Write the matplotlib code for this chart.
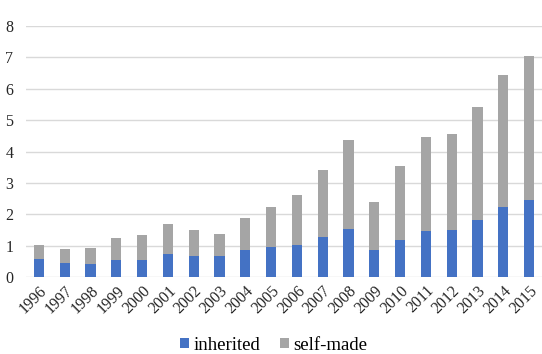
import matplotlib
matplotlib.use("Agg")
import matplotlib.pyplot as plt
import numpy as np

years = [str(y) for y in range(1996, 2016)]
inherited = [0.56, 0.44, 0.41, 0.53, 0.55, 0.74, 0.68, 0.66, 0.87, 0.95,
             1.02, 1.28, 1.54, 0.87, 1.19, 1.47, 1.51, 1.82, 2.22, 2.47]
total = [1.02, 0.88, 0.92, 1.25, 1.35, 1.70, 1.50, 1.37, 1.88, 2.22,
         2.62, 3.42, 4.37, 2.40, 3.55, 4.47, 4.55, 5.41, 6.43, 7.05]
self_made = [t - i for t, i in zip(total, inherited)]

plt.rcParams['font.family'] = ['Liberation Serif', 'DejaVu Serif']

fig = plt.figure(figsize=(5.42, 3.54), dpi=100)
ax = fig.add_axes([26/542, 1 - 277/354, 516/542, 251/354])

x = np.arange(len(years))
w = 0.39
ax.bar(x, inherited, width=w, color='#4472C4', label='inherited', zorder=3)
ax.bar(x, self_made, width=w, bottom=inherited, color='#A5A5A5', label='self-made', zorder=3)

ax.set_xlim(-0.5, len(years) - 0.5)
ax.set_ylim(0, 8)
ax.set_yticks(range(0, 9))
ax.yaxis.grid(True, color='#d9d9d9', linewidth=1, zorder=0)
for s in ax.spines.values():
    s.set_visible(False)
ax.tick_params(axis='both', length=0, labelsize=11.5, colors='#262626')
ax.tick_params(axis='y', pad=9)
ax.set_xticks(x)
ax.set_xticklabels(years, rotation=45, ha='right', rotation_mode='anchor')
ax.tick_params(axis='x', pad=4)

fig.legend(loc='center', bbox_to_anchor=(0.505, 9/354), ncol=2, frameon=False,
           fontsize=13.5, handlelength=0.48, handleheight=0.48, handletextpad=0.25,
           columnspacing=1.05, borderpad=0, borderaxespad=0)

fig.savefig('out.png', dpi=100)
